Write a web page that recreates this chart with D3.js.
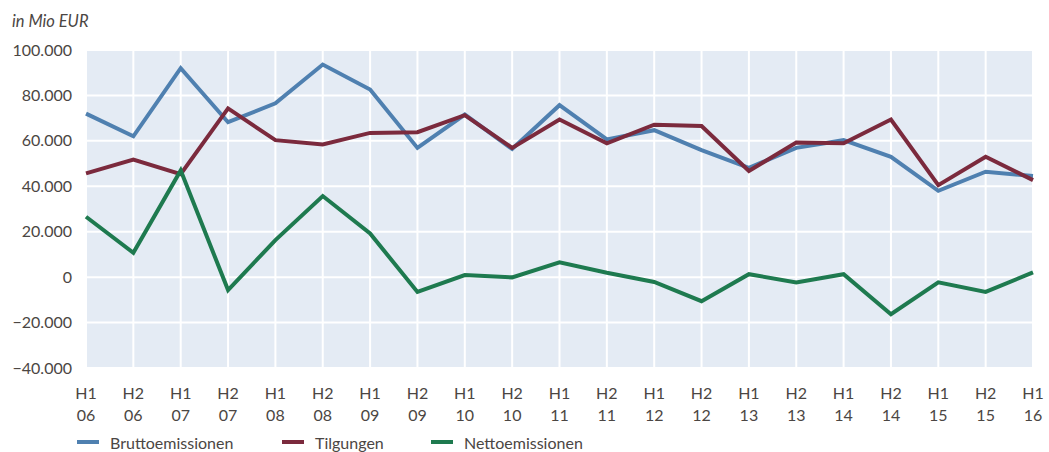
<!DOCTYPE html>
<html>
<head>
<meta charset="utf-8">
<script src="https://cdn.jsdelivr.net/npm/d3@7"></script>
<style>
  body { margin: 0; background: #fff; }
  svg text { font-family: "Lato", "Open Sans", sans-serif; fill: #4b4643; }
</style>
</head>
<body>
<svg id="chart" width="1049" height="452"></svg>
<script>
// half-years H1 06 .. H1 16
const periods = ["H1|06","H2|06","H1|07","H2|07","H1|08","H2|08","H1|09","H2|09","H1|10","H2|10",
  "H1|11","H2|11","H1|12","H2|12","H1|13","H2|13","H1|14","H2|14","H1|15","H2|15","H1|16"];

const brutto = [72000, 62000, 92000, 68200, 76500, 93600, 82600, 56900, 71600, 56400,
  75700, 60600, 64700, 55900, 48100, 56900, 60300, 53000, 38000, 46400, 44500];
const tilgungen = [45700, 51800, 45300, 74300, 60300, 58400, 63500, 63800, 71300, 56900,
  69400, 58900, 67100, 66500, 46700, 59300, 58900, 69400, 40500, 53000, 42700];
const netto = [26600, 10700, 47000, -5700, 16300, 35700, 19200, -6500, 900, -100,
  6500, 1900, -2100, -10600, 1300, -2300, 1300, -16300, -2300, -6500, 2100];

const yTicks = [-40000, -20000, 0, 20000, 40000, 60000, 80000, 100000];

const series = [
  { name: "Bruttoemissionen", values: brutto, color: "#4f80b0" },
  { name: "Tilgungen", values: tilgungen, color: "#7b2a3d" },
  { name: "Nettoemissionen", values: netto, color: "#1e7a4f" }
];

const margin = { left: 86, right: 16, top: 50, bottom: 84 };
const width = 1049, height = 452;

const svg = d3.select("#chart");

const x = d3.scalePoint()
  .domain(periods)
  .range([margin.left, width - margin.right]);

const y = d3.scaleLinear()
  .domain([-40000, 100000])
  .range([height - margin.bottom, margin.top]);

// plot background
svg.append("rect")
  .attr("x", margin.left)
  .attr("y", margin.top)
  .attr("width", width - margin.right - margin.left)
  .attr("height", height - margin.bottom - margin.top)
  .attr("fill", "#e4ebf4");

// grid lines
svg.append("g")
  .selectAll("line")
  .data(yTicks)
  .join("line")
  .attr("x1", margin.left)
  .attr("x2", width - margin.right)
  .attr("y1", d => y(d))
  .attr("y2", d => y(d))
  .attr("stroke", "#fff")
  .attr("stroke-width", 2);

svg.append("g")
  .selectAll("line")
  .data(periods)
  .join("line")
  .attr("x1", d => x(d))
  .attr("x2", d => x(d))
  .attr("y1", margin.top)
  .attr("y2", height - margin.bottom)
  .attr("stroke", "#fff")
  .attr("stroke-width", 2);

// y axis labels
const fmt = d => d === 0 ? "0" : (d < 0 ? "\u2212" : "") + d3.format(",")(Math.abs(d)).replace(/,/g, ".");
const yAxis = svg.append("g")
  .attr("transform", `translate(${margin.left - 14},0)`)
  .call(d3.axisLeft(y).tickValues(yTicks).tickSize(0).tickFormat(fmt));
yAxis.select(".domain").remove();
yAxis.selectAll("text")
  .attr("x", 0)
  .style("font-size", "16px")
  .style("font-family", "Lato, sans-serif")
  .attr("fill", "#4b4643");

// x axis labels (two lines)
const xl = svg.append("g")
  .selectAll("text")
  .data(periods)
  .join("text")
  .attr("text-anchor", "middle")
  .style("font-size", "16px")
  .attr("transform", d => `translate(${x(d)},0)`);
xl.append("tspan").attr("x", 0).attr("y", 399).text(d => d.split("|")[0]);
xl.append("tspan").attr("x", 0).attr("y", 421).text(d => d.split("|")[1]);

// lines
const line = d3.line()
  .x((d, i) => x(periods[i]))
  .y(d => y(d));

svg.append("g")
  .selectAll("path")
  .data(series)
  .join("path")
  .attr("d", d => line(d.values))
  .attr("fill", "none")
  .attr("stroke", d => d.color)
  .attr("stroke-width", 4)
  .attr("stroke-linejoin", "miter");

// unit label
svg.append("text")
  .attr("x", 12)
  .attr("y", 27)
  .style("font-size", "16.5px")
  .style("font-style", "italic")
  .text("in Mio EUR");

// legend
const legendX = [77, 282, 431];
const legend = svg.append("g")
  .selectAll("g")
  .data(series)
  .join("g")
  .attr("transform", (d, i) => `translate(${legendX[i]},442)`);
legend.append("line")
  .attr("x1", 0).attr("x2", 22)
  .attr("stroke", d => d.color)
  .attr("stroke-width", 4);
legend.append("text")
  .attr("x", 33)
  .attr("y", 6.5)
  .style("font-size", "16px")
  .text(d => d.name);
</script>
</body>
</html>
